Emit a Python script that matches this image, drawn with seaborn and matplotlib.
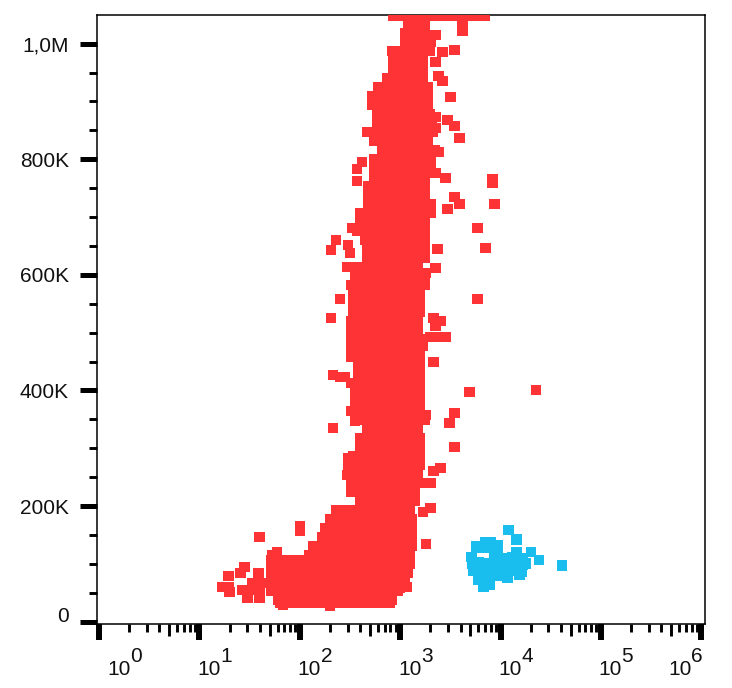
import matplotlib
matplotlib.use("Agg")
import pandas as pd
import seaborn as sns
import matplotlib.pyplot as plt
from matplotlib.transforms import ScaledTranslation

sns.set_style("white")
plt.rcParams['font.family'] = ['Liberation Sans', 'DejaVu Sans']

# Height in thousands, position as log10 of the x value
band_y = [1049, 1034, 1018, 1003, 987, 972, 956, 941, 925, 909, 894, 878, 863, 847, 832, 816,
          800, 785, 769, 754, 738, 723, 707, 691, 676, 660, 645, 629, 614, 598, 582, 567,
          551, 536, 520, 505, 489, 474, 458, 442, 427, 411, 396, 380, 365, 349, 333, 318,
          302, 287, 271, 255, 240, 224, 209, 193, 178, 162, 147, 131, 115, 106, 100, 84, 69,
          53, 37, 32]
band_x = [
    [2.93, 3.00, 3.07, 3.14, 3.21, 3.28, 3.35, 3.42, 3.49, 3.56, 3.63, 3.70, 3.77, 3.84],
    [3.08, 3.15, 3.25],
    [3.05, 3.12, 3.20, 3.25],
    [3.05, 3.13, 3.21, 3.30],
    [2.92, 3.00, 3.08, 3.16, 3.24, 3.29],
    [2.93, 3.01, 3.09, 3.17, 3.23],
    [2.93, 3.01, 3.09, 3.17, 3.23],
    [2.87, 2.95, 3.03, 3.11, 3.19, 3.23],
    [2.78, 2.86, 2.94, 3.02, 3.10, 3.18, 3.27],
    [2.72, 2.80, 2.88, 2.96, 3.04, 3.12, 3.20, 3.27],
    [2.72, 2.80, 2.88, 2.96, 3.04, 3.12, 3.20, 3.27],
    [2.77, 2.85, 2.93, 3.01, 3.09, 3.17, 3.25, 3.29],
    [2.77, 2.85, 2.93, 3.01, 3.09, 3.17, 3.25, 3.31],
    [2.67, 2.75, 2.83, 2.91, 2.99, 3.07, 3.15, 3.23, 3.32],
    [2.74, 2.82, 2.90, 2.98, 3.06, 3.14, 3.22, 3.27],
    [2.82, 2.90, 2.98, 3.06, 3.14, 3.22, 3.30, 3.34],
    [2.74, 2.82, 2.90, 2.98, 3.06, 3.14, 3.22, 3.30],
    [2.74, 2.82, 2.90, 2.98, 3.06, 3.14, 3.22, 3.30],
    [2.74, 2.82, 2.90, 2.98, 3.06, 3.14, 3.22, 3.25],
    [2.68, 2.76, 2.84, 2.92, 3.00, 3.08, 3.16, 3.25],
    [2.68, 2.76, 2.84, 2.92, 3.00, 3.08, 3.16, 3.25],
    [2.68, 2.76, 2.84, 2.92, 3.00, 3.08, 3.16, 3.24, 3.30],
    [2.60, 2.68, 2.76, 2.84, 2.92, 3.00, 3.08, 3.16, 3.24, 3.30],
    [2.60, 2.68, 2.76, 2.84, 2.92, 3.00, 3.08, 3.16, 3.25],
    [2.57, 2.65, 2.73, 2.81, 2.89, 2.97, 3.05, 3.13, 3.21, 3.25],
    [2.65, 2.73, 2.81, 2.89, 2.97, 3.05, 3.13, 3.21, 3.25],
    [2.67, 2.75, 2.83, 2.91, 2.99, 3.07, 3.15, 3.25],
    [2.67, 2.75, 2.83, 2.91, 2.99, 3.07, 3.15, 3.25],
    [2.47, 2.55, 2.63, 2.71, 2.79, 2.87, 2.95, 3.03, 3.11, 3.18],
    [2.55, 2.63, 2.71, 2.79, 2.87, 2.95, 3.03, 3.11, 3.19, 3.25],
    [2.51, 2.59, 2.67, 2.75, 2.83, 2.91, 2.99, 3.07, 3.15, 3.25],
    [2.53, 2.61, 2.69, 2.77, 2.85, 2.93, 3.01, 3.09, 3.17, 3.20],
    [2.53, 2.61, 2.69, 2.77, 2.85, 2.93, 3.01, 3.09, 3.17, 3.20],
    [2.53, 2.61, 2.69, 2.77, 2.85, 2.93, 3.01, 3.09, 3.17, 3.20],
    [2.51, 2.59, 2.67, 2.75, 2.83, 2.91, 2.99, 3.07, 3.15, 3.18],
    [2.51, 2.59, 2.67, 2.75, 2.83, 2.91, 2.99, 3.07, 3.15, 3.18],
    [2.51, 2.59, 2.67, 2.75, 2.83, 2.91, 2.99, 3.07, 3.15, 3.22],
    [2.51, 2.59, 2.67, 2.75, 2.83, 2.91, 2.99, 3.07, 3.15, 3.20],
    [2.51, 2.59, 2.67, 2.75, 2.83, 2.91, 2.99, 3.07, 3.15, 3.20],
    [2.58, 2.66, 2.74, 2.82, 2.90, 2.98, 3.06, 3.14, 3.20],
    [2.58, 2.66, 2.74, 2.82, 2.90, 2.98, 3.06, 3.14, 3.20],
    [2.58, 2.66, 2.74, 2.82, 2.90, 2.98, 3.06, 3.14, 3.20],
    [2.58, 2.66, 2.74, 2.82, 2.90, 2.98, 3.06, 3.14, 3.20],
    [2.55, 2.63, 2.71, 2.79, 2.87, 2.95, 3.03, 3.11, 3.20],
    [2.51, 2.59, 2.67, 2.75, 2.83, 2.91, 2.99, 3.07, 3.15, 3.20],
    [2.65, 2.73, 2.81, 2.89, 2.97, 3.05, 3.13, 3.21, 3.25],
    [2.67, 2.75, 2.83, 2.91, 2.99, 3.07, 3.15, 3.18],
    [2.60, 2.68, 2.76, 2.84, 2.92, 3.00, 3.08, 3.16, 3.20],
    [2.60, 2.68, 2.76, 2.84, 2.92, 3.00, 3.08, 3.16, 3.20],
    [2.53, 2.61, 2.69, 2.77, 2.85, 2.93, 3.01, 3.09, 3.17, 3.20],
    [2.48, 2.56, 2.64, 2.72, 2.80, 2.88, 2.96, 3.04, 3.12, 3.20],
    [2.50, 2.58, 2.66, 2.74, 2.82, 2.90, 2.98, 3.06, 3.14, 3.18],
    [2.51, 2.59, 2.67, 2.75, 2.83, 2.91, 2.99, 3.07, 3.15, 3.20],
    [2.51, 2.59, 2.67, 2.75, 2.83, 2.91, 2.99, 3.07, 3.15],
    [2.60, 2.68, 2.76, 2.84, 2.92, 3.00, 3.08, 3.15],
    [2.36, 2.44, 2.52, 2.60, 2.68, 2.76, 2.84, 2.92, 3.00, 3.08, 3.10],
    [2.30, 2.38, 2.46, 2.54, 2.62, 2.70, 2.78, 2.86, 2.94, 3.02, 3.12],
    [2.25, 2.33, 2.41, 2.49, 2.57, 2.65, 2.73, 2.81, 2.89, 2.97, 3.05, 3.12],
    [2.22, 2.30, 2.38, 2.46, 2.54, 2.62, 2.70, 2.78, 2.86, 2.94, 3.02, 3.12],
    [2.13, 2.21, 2.29, 2.37, 2.45, 2.53, 2.61, 2.69, 2.77, 2.85, 2.93, 3.01, 3.09, 3.12],
    [2.09, 2.17, 2.25, 2.33, 2.41, 2.49, 2.57, 2.65, 2.73, 2.81, 2.89, 2.97, 3.05, 3.10],
    [1.72, 1.80, 1.88, 1.96, 2.04],
    [1.72, 1.80, 1.88, 1.96, 2.04, 2.12, 2.20, 2.28, 2.36, 2.44, 2.52, 2.60, 2.68, 2.76, 2.84, 2.92, 3.00, 3.10],
    [1.72, 1.80, 1.88, 1.96, 2.04, 2.12, 2.20, 2.28, 2.36, 2.44, 2.52, 2.60, 2.68, 2.76, 2.84, 2.92, 3.00, 3.08],
    [1.72, 1.80, 1.88, 1.96, 2.04, 2.12, 2.20, 2.28, 2.36, 2.44, 2.52, 2.60, 2.68, 2.76, 2.84, 2.92, 3.00, 3.05],
    [1.72, 1.80, 1.88, 1.96, 2.04, 2.12, 2.20, 2.28, 2.36, 2.44, 2.52, 2.60, 2.68, 2.76, 2.84, 2.92, 2.98],
    [1.78, 1.86, 1.94, 2.02, 2.10, 2.18, 2.26, 2.34, 2.42, 2.50, 2.58, 2.66, 2.74, 2.82, 2.92],
    [1.80, 1.88, 1.96, 2.04, 2.12, 2.20, 2.28, 2.36, 2.44, 2.52, 2.60, 2.68, 2.76, 2.84, 2.90],
]

# Single red events around the main band
stray_x = [3.62, 3.62, 3.54, 3.50, 3.42, 3.38, 3.47, 3.54, 3.59, 3.45, 3.54, 3.59, 3.47, 3.35,
           3.42, 3.35, 3.35, 3.35, 3.38, 3.35, 3.92, 3.92, 3.94, 3.77, 3.85, 3.77, 4.35, 3.69,
           3.54, 3.49, 3.54, 3.40, 3.33, 3.30, 3.22, 3.37, 3.35, 3.26, 3.33, 3.40, 3.35, 3.30,
           3.37, 3.45, 3.23, 3.33, 3.26, 3.30, 3.23, 3.26, 3.00, 3.07, 2.62, 2.57, 2.57, 2.52,
           2.36, 2.48, 2.31, 2.50, 2.40, 2.31, 2.33, 2.40, 2.45, 2.51, 2.55, 2.33, 2.55, 2.48,
           2.47, 1.60, 2.00, 2.00, 1.73, 1.77, 1.45, 1.41, 1.29, 1.59, 1.23, 1.29, 1.30, 1.43,
           1.48, 1.60, 1.53, 1.64, 1.50, 1.60, 1.83, 2.30]
stray_y = [1034, 1022, 989, 908, 935, 944, 868, 858, 837, 768, 735, 723, 714, 873,
           986, 1015, 968, 776, 813, 854, 766, 760, 723, 681, 646, 558, 401, 397,
           361, 344, 302, 266, 261, 240, 240, 645, 612, 603, 525, 520, 512, 493,
           493, 493, 477, 449, 358, 197, 190, 134, 58, 60, 795, 783, 762, 681,
           660, 652, 643, 638, 558, 525, 427, 423, 423, 413, 397, 335, 347, 283,
           254, 147, 166, 157, 115, 121, 95, 84, 79, 84, 60, 60, 51, 55,
           41, 41, 67, 67, 55, 55, 29, 27]

# Blue population
blue_x = [4.08, 4.16, 4.30, 4.38, 4.61, 4.16, 4.22, 4.22, 4.19, 4.07, 3.83, 3.89, 3.78, 3.73,
          3.71, 3.76, 3.85, 3.97, 3.94, 4.02, 4.09, 3.84, 3.94, 3.81, 3.89, 3.99, 4.06, 4.17,
          3.86, 3.89, 4.21, 4.25, 3.78, 3.76, 3.80, 3.90, 3.97, 4.03, 3.97, 4.12, 4.12, 3.72]
blue_y = [159, 142, 121, 107, 97, 121, 110, 98, 81, 76, 60, 63, 72, 88,
          112, 130, 138, 133, 119, 110, 101, 101, 101, 86, 86, 93, 110, 101,
          76, 127, 86, 101, 103, 89, 128, 138, 120, 90, 80, 88, 112, 100]

y_major = [0, 200000, 400000, 600000, 800000, 1000000]
y_labels = ["0", "200K", "400K", "600K", "800K", "1,0M"]
y_minor = [50000, 100000, 150000, 250000, 300000, 350000, 450000, 500000, 550000,
           650000, 700000, 750000, 850000, 900000, 950000]
x_exponents = [0, 1, 2, 3, 4, 5, 6]
x_label_shift = [8, -2, -2, -2, -2, -3, -33]  # px from the tick to the start of the "10"

rows = []
for y, xs in zip(band_y, band_x):
    for x in xs:
        rows.append((10 ** x, y * 1000, "red"))
for x, y in zip(stray_x, stray_y):
    rows.append((10 ** x, y * 1000, "red"))
for x, y in zip(blue_x, blue_y):
    rows.append((10 ** x, y * 1000, "blue"))
df = pd.DataFrame(rows, columns=["x", "y", "population"])

fig = plt.figure(figsize=(7.32, 6.88), dpi=100)
ax = fig.add_axes([96.7 / 732, 64 / 688, 608.3 / 732, 609 / 688])

sns.scatterplot(data=df, x="x", y="y", hue="population", palette={"red": "#fd3336", "blue": "#19bdee"},
                marker="s", s=56, linewidth=0, legend=False, zorder=3, ax=ax)

ax.set_xscale("log")
ax.set_xlim(10 ** -0.023, 10 ** 6.036)
ax.set_ylim(-4000, 1049600)
ax.set_xlabel("")
ax.set_ylabel("")

for spine in ax.spines.values():
    spine.set_linewidth(1.1)
    spine.set_color("black")
    spine.set_visible(True)

# y axis
ax.set_yticks(y_major)
ax.set_yticklabels(y_labels, fontsize=15, color="#111111")
ax.set_yticks(y_minor, minor=True)
ax.tick_params(axis="y", which="major", left=True, length=12, width=3.6, pad=8, color="black")
ax.tick_params(axis="y", which="minor", left=True, length=5.5, width=2.1, color="black")
# the 0 label sits a little above its tick
zero_label = ax.get_yticklabels()[0]
zero_label.set_transform(zero_label.get_transform() + ScaledTranslation(0, 7 / 100, fig.dpi_scale_trans))

# x axis: long ticks at decades, medium at 5, short for the others
decades = [10.0 ** e for e in x_exponents]
ax.set_xticks(decades)
ax.set_xticklabels([])
ax.set_xticks([m * d for d in decades[:-1] for m in (2, 3, 4, 6, 7, 8, 9)], minor=True)
ax.set_xticklabels([], minor=True)
ax.tick_params(axis="x", which="major", bottom=True, length=11.8, width=4.3, color="black")
ax.tick_params(axis="x", which="minor", bottom=True, length=5.8, width=2.1, color="black")
mid = ax.secondary_xaxis("bottom")
mid.set_xticks([5 * d for d in decades[:-1]])
mid.set_xticklabels([])
mid.minorticks_off()
mid.tick_params(length=8.6, width=2.1, color="black")
mid.spines["bottom"].set_visible(False)

trans = ax.get_xaxis_transform()
for e, tick, shift in zip(x_exponents, decades, x_label_shift):
    ax.annotate("10", xy=(tick, 0), xycoords=trans, xytext=(shift * 0.72, -36.7),
                textcoords="offset points", fontsize=15, color="#111111", ha="left", va="baseline")
    ax.annotate(str(e), xy=(tick, 0), xycoords=trans, xytext=((shift + 23) * 0.72, -27.4),
                textcoords="offset points", fontsize=15, color="#111111", ha="left", va="baseline")

fig.savefig("out.png", dpi=100)
